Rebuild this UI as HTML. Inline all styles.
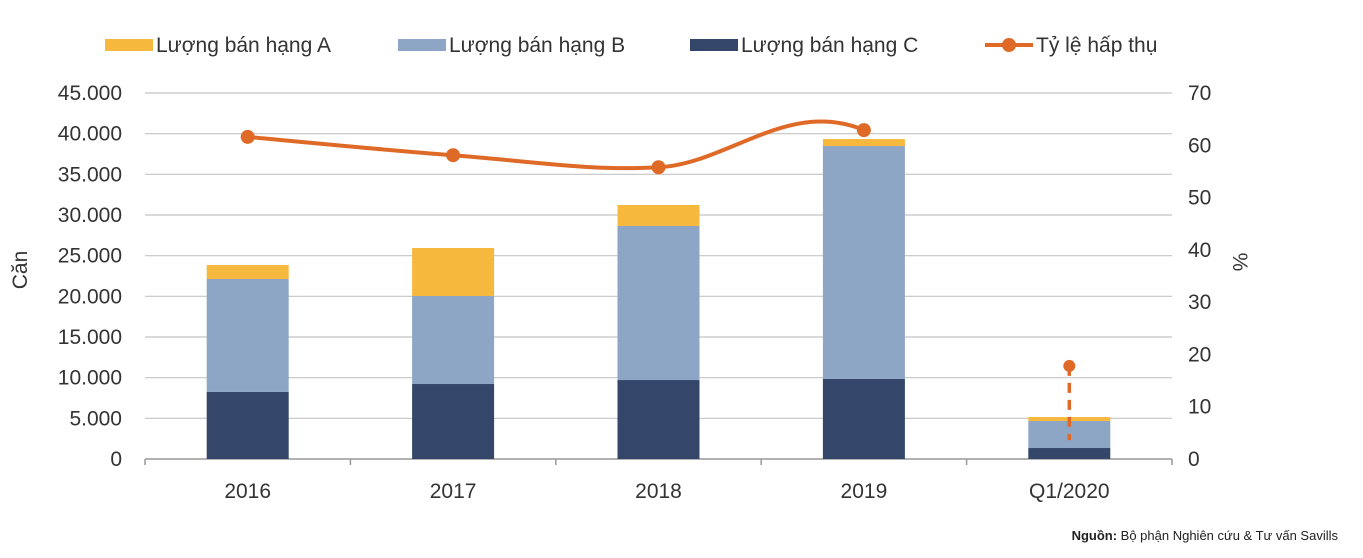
<!DOCTYPE html>
<html><head><meta charset="utf-8">
<style>
html,body{margin:0;padding:0;background:#fff;}
body{width:1363px;height:553px;overflow:hidden;font-family:"Liberation Sans",sans-serif;}
svg text{font-family:"Liberation Sans",sans-serif;}
</style></head>
<body>
<svg id="chart" width="1363" height="553"></svg>
<script>
const categories = ["2016","2017","2018","2019","Q1/2020"];
const gradeC = [8240, 9220, 9710, 9840, 1350];
const gradeB = [13890, 10820, 18940, 28640, 3320];
const gradeA = [1720, 5900, 2580, 860, 490];
const absorption = [61.6, 58.1, 55.8, 62.9];
const absorptionQ1 = 17.8;
const absorptionQ1Base = 3.6;
const leftTicks = ["0","5.000","10.000","15.000","20.000","25.000","30.000","35.000","40.000","45.000"];
const rightTicks = ["0","10","20","30","40","50","60","70"];

const NS="http://www.w3.org/2000/svg";
const svg=document.getElementById('chart');
const x0=145,x1=1172,yBase=459,yTop=93;
const band=(x1-x0)/categories.length, barW=82;
const yL=v=>yBase-(v/45000)*(yBase-yTop);
const yR=v=>yBase-(v/70)*(yBase-yTop);
const xC=i=>x0+band*(i+0.5);
function mk(tag,attrs,parent){const e=document.createElementNS(NS,tag);for(const k in attrs)e.setAttribute(k,attrs[k]);(parent||svg).appendChild(e);return e;}

leftTicks.forEach((t,i)=>{
  const y=yL(i*5000);
  if(i>0){const g=mk('line',{x1:x0,x2:x1,y1:y,y2:y,stroke:'#c4c4c4','stroke-width':1.2});
  
  }
  const tx=mk('text',{x:122,y:y+7,'text-anchor':'end','font-size':21,fill:'#333'});
  tx.textContent=t;
  
  
});
rightTicks.forEach((t,i)=>{
  const y=yR(i*10);
  const tx=mk('text',{x:1188,y:y+7,'text-anchor':'start','font-size':21,fill:'#333'});
  tx.textContent=t;
  
  
});
const ax=mk('line',{x1:x0,x2:x1,y1:yBase,y2:yBase,stroke:'#999','stroke-width':1.5});


for(let i=0;i<=categories.length;i++){
  const xx=x0+band*i;
  const tk=mk('line',{x1:xx,x2:xx,y1:yBase,y2:yBase+6,stroke:'#999','stroke-width':1.5});
  
  
}
categories.forEach((c,i)=>{
  const xl=xC(i)-barW/2;
  const segs=[[0,gradeC[i],'#34476a','bar-grade-c'],[gradeC[i],gradeC[i]+gradeB[i],'#8ea6c6','bar-grade-b'],[gradeC[i]+gradeB[i],gradeC[i]+gradeB[i]+gradeA[i],'#f7b83e','bar-grade-a']];
  segs.forEach(s=>{
    const r=mk('rect',{x:xl,y:yL(s[1]),width:barW,height:yL(s[0])-yL(s[1]),fill:s[2]});
    
    
  });
  const tx=mk('text',{x:xC(i),y:498,'text-anchor':'middle','font-size':21,fill:'#333'});
  tx.textContent=c;
  
  
});
const pts=absorption.map((v,i)=>[xC(i),yR(v)]);
let d=`M${pts[0][0]},${pts[0][1]}`;
for(let i=0;i<pts.length-1;i++){
  const p0=pts[Math.max(0,i-1)],p1=pts[i],p2=pts[i+1],p3=pts[Math.min(pts.length-1,i+2)];
  const t=1/6;
  let c1=[p1[0]+(p2[0]-p0[0])*t,p1[1]+(p2[1]-p0[1])*t];
  let c2=[p2[0]-(p3[0]-p1[0])*t,p2[1]-(p3[1]-p1[1])*t];
  if(i===pts.length-2){c1=[p1[0]+(p2[0]-p0[0])*t,p1[1]+(p2[1]-p0[1])*0.12];c2=[p2[0]-75,p2[1]-32];}
  d+=` C${c1[0]},${c1[1]} ${c2[0]},${c2[1]} ${p2[0]},${p2[1]}`;
}
const ln=mk('path',{d:d,fill:'none',stroke:'#df6a28','stroke-width':4});


pts.forEach((p,i)=>{
  const c=mk('circle',{cx:p[0],cy:p[1],r:7,fill:'#df6a28'});
  
  
});
const dl=mk('line',{x1:xC(4),x2:xC(4),y1:yR(absorptionQ1),y2:yR(absorptionQ1Base),stroke:'#df6a28','stroke-width':3.5,'stroke-dasharray':'10,7'});


const qc=mk('circle',{cx:xC(4),cy:yR(absorptionQ1),r:6,fill:'#df6a28'});



const yt=mk('text',{x:0,y:0,'font-size':21,fill:'#333','text-anchor':'middle',transform:'translate(27,270) rotate(-90)'});
yt.textContent='Căn';


const rt=mk('text',{x:0,y:0,'font-size':21,fill:'#333','text-anchor':'middle',transform:'translate(1233,262) rotate(90)'});
rt.textContent='%';



const leg=[[105,'#f7b83e','Lượng bán hạng A','rect'],[398,'#8ea6c6','Lượng bán hạng B','rect'],[690,'#34476a','Lượng bán hạng C','rect'],[985,'#df6a28','Tỷ lệ hấp thụ','line']];
leg.forEach(l=>{
  const g=mk('g',{});
  
  
  if(l[3]==='rect'){mk('rect',{x:l[0],y:39,width:48,height:12,fill:l[1]},g);}
  else{mk('line',{x1:l[0],x2:l[0]+48,y1:45,y2:45,stroke:l[1],'stroke-width':4},g);mk('circle',{cx:l[0]+24,cy:45,r:7,fill:l[1]},g);}
  const t=mk('text',{x:l[0]+51,y:52,'font-size':21,fill:'#333'},g);
  t.textContent=l[2];
});
const src=mk('text',{x:1338,y:540,'text-anchor':'end','font-size':13,fill:'#222'});


const b=mk('tspan',{'font-weight':'bold'},src);b.textContent='Nguồn:';
const r2=mk('tspan',{},src);r2.textContent=' Bộ phận Nghiên cứu & Tư vấn Savills';
</script>
</body></html>
